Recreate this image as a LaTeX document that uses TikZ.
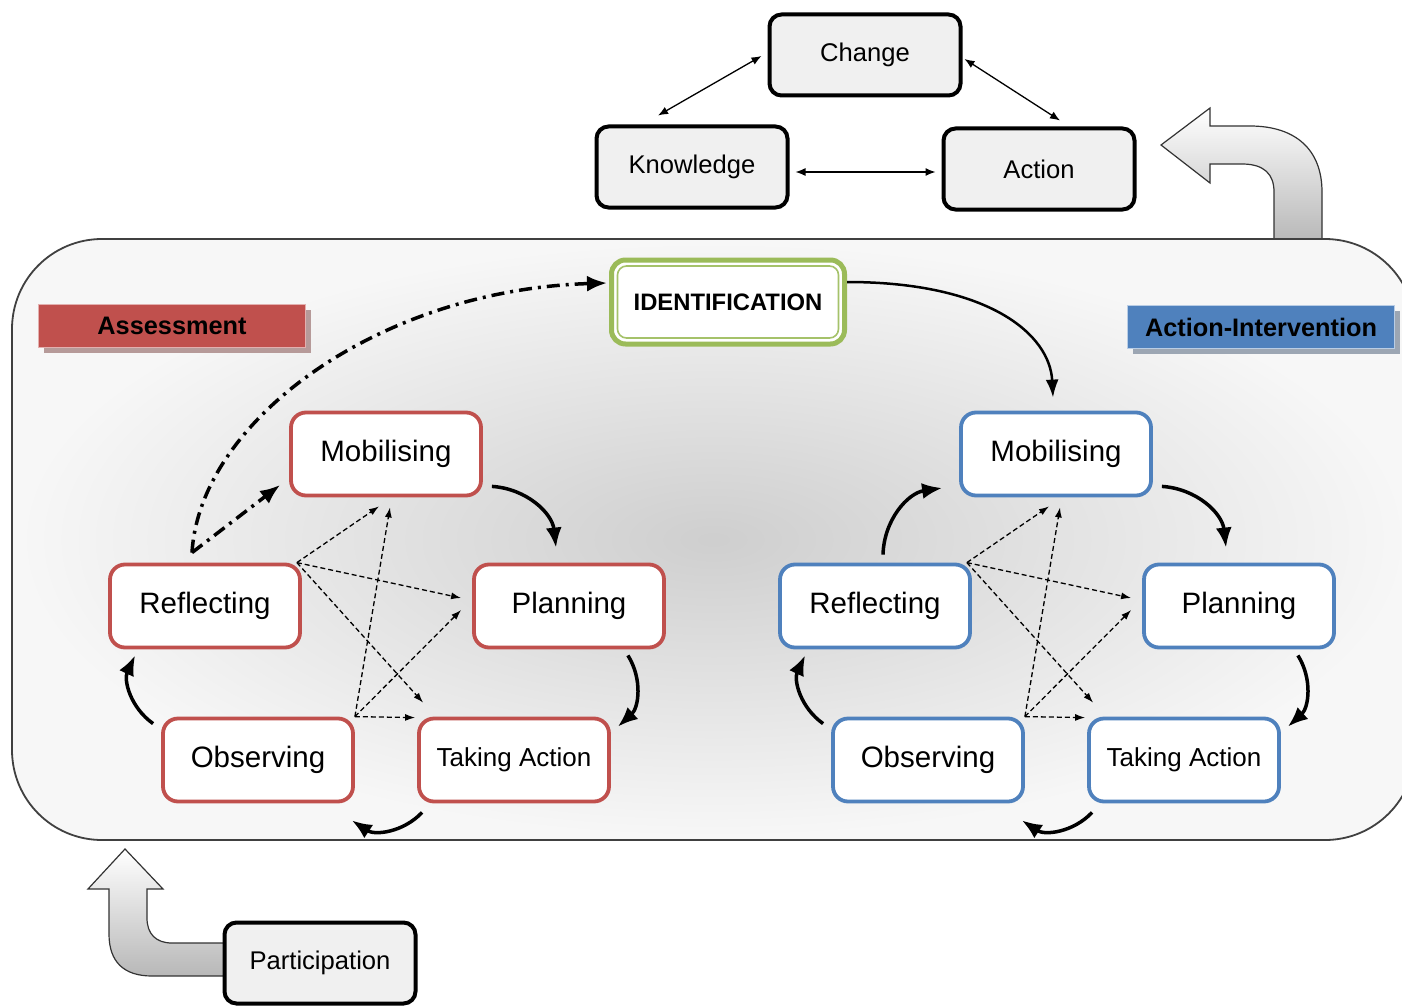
\documentclass[tikz,border=0pt]{standalone}
\usepackage{fontspec}
\setmainfont{Liberation Sans}
\usetikzlibrary{arrows.meta,calc,shadows}
\definecolor{redc}{HTML}{C0504D}
\definecolor{bluec}{HTML}{4F81BD}
\definecolor{greenc}{HTML}{9BBB59}
\definecolor{boxgray}{HTML}{F0F0F0}
\tikzset{
 blackbox/.style={draw=black, line width=4pt, rounded corners=12pt, fill=boxgray, minimum width=191pt, minimum height=81pt, font=\fontsize{25.6}{30}\selectfont, inner sep=0pt},
 cycbox/.style={line width=3.8pt, rounded corners=15pt, fill=white, minimum width=190pt, minimum height=83pt, inner sep=0pt, font=\fontsize{29.5}{34}\selectfont},
 redbox/.style={cycbox, draw=redc},
 bluebox/.style={cycbox, draw=bluec},
 cycarrow/.style={line width=3.5pt, -{Latex[length=20pt,width=16pt]}, bend left=40},
 dasharrow/.style={line width=1.3pt, dash pattern=on 5pt off 3pt, -{Latex[length=10pt,width=7pt]}},
 dotarrow/.style={line width=3.5pt, dash pattern=on 13pt off 6pt on 3pt off 6pt, -{Latex[length=20pt,width=16pt]}},
 triarrow/.style={line width=1.3pt, {Latex[length=10pt,width=8pt]}-{Latex[length=10pt,width=8pt]}},
 tagbox/.style={minimum width=267pt, minimum height=43pt, inner sep=0pt, font=\fontsize{25.3}{30}\selectfont\bfseries},
 bentarrow/.style={draw=black!80, line width=1.2pt, top color=white, bottom color=black!28},
}
\newcommand\mycycle[3]{%
 \node[#2] (#1mob) at (386+#3,454) {Mobilising};
 \node[#2] (#1refl) at (205+#3,606) {Reflecting};
 \node[#2] (#1plan) at (569+#3,606) {Planning};
 \node[#2] (#1obs) at (258+#3,760) {Observing};
 \node[#2, font=\fontsize{26}{30}\selectfont] (#1ta) at (514+#3,760) {Taking Action};
 \draw[cycarrow] ($(#1mob.south east)+(9,-11)$) to ($(#1plan.north)+(-13,-15)$);
 \draw[cycarrow] ($(#1plan.south east)+(-38,6)$) to ($(#1ta.north east)+(7,10)$);
 \draw[cycarrow] ($(#1ta.south west)+(5,9)$) to ($(#1obs.south east)+(-3,17)$);
 \draw[cycarrow] ($(#1obs.north west)+(-8,7)$) to ($(#1refl.south west)+(27,6)$);
 \draw[dasharrow] ($(#1refl.north east)+(-5,0)$) -- ($(#1mob.south)+(-7,9)$);
 \draw[dasharrow] ($(#1refl.north east)+(-5,0)$) -- ($(#1plan.west)+(-11,-8)$);
 \draw[dasharrow] ($(#1refl.north east)+(-5,0)$) -- ($(#1ta.north west)+(6,-14)$);
 \draw[dasharrow] (#1obs.north east) -- ($(#1mob.south)+(4,10)$);
 \draw[dasharrow] (#1obs.north east) -- ($(#1plan.west)+(-11,4)$);
 \draw[dasharrow] (#1obs.north east) -- ($(#1ta.north west)+(-2,1)$);
}
\begin{document}
\begin{tikzpicture}[x=1pt,y=-1pt]
\path[use as bounding box] (0,0) rectangle (1402,1006);
\clip (0,0) rectangle (1402,1006);
\fill[white] (0,0) rectangle (1402,1006);

% bent arrow top right
\path[bentarrow] (1274,242) -- (1274,192) .. controls (1274,174) and (1264,164) .. (1242,164) -- (1210,164) -- (1210,183) -- (1161,145) -- (1210,108) -- (1210,126) -- (1250,126) .. controls (1296,126) and (1322,150) .. (1322,192) -- (1322,242) -- cycle;

% container
\path[rounded corners=90pt, draw=black!75, line width=1.8pt, inner color=black!19, outer color=black!3] (12,239) rectangle (1415,840);

% top triangle
\node[blackbox] (change) at (865,55) {Change};
\node[blackbox] (know) at (692,167) {Knowledge};
\node[blackbox] (act) at (1039,169) {Action};
\draw[triarrow] ($(know.north)+(-34,-9)$) -- ($(change.west)+(-6,1)$);
\draw[triarrow] ($(change.east)+(2,4)$) -- ($(act.north)+(21,-6)$);
\draw[triarrow] ($(know.east)+(6,5)$) -- ($(act.west)+(-6,3)$);

% labels
\node[tagbox, fill=redc, draw=redc!45!white, line width=1pt, general shadow={fill=redc!35!gray!70, shadow xshift=5pt, shadow yshift=-5pt}] (assess) at (172,326) {Assessment};
\node[tagbox, fill=bluec, draw=bluec!40!white, line width=1pt, general shadow={fill=bluec!30!gray!70, shadow xshift=5pt, shadow yshift=-5pt}] (actint) at (1261,327) {Action-Intervention};

% identification
\node[draw=greenc, line width=5pt, rounded corners=14pt, fill=white, minimum width=233pt, minimum height=84pt, font=\fontsize{23.8}{28}\selectfont\bfseries, inner sep=0pt] (ident) at (728,302) {IDENTIFICATION};
\draw[greenc!90, line width=1.6pt, rounded corners=9pt] ($(ident.south west)+(8.5,-8.5)$) rectangle ($(ident.north east)+(-8.5,8.5)$);

% cycles
\mycycle{L}{redbox}{0}
\mycycle{R}{bluebox}{670}

% specific connectors
\draw[dotarrow] ($(Lrefl.north)+(-13,-10)$) .. controls (200,420) and (380,290) .. ($(ident.west)+(-2,-19)$);
\draw[dotarrow] ($(Lrefl.north)+(-13,-10)$) -- ($(Lmob.west)+(-9,31)$);
\draw[line width=2.5pt, -{Latex[length=18pt,width=13pt]}] ($(ident.east)+(0,-20)$) .. controls (990,282) and (1050,335) .. ($(Rmob.north)+(-3,-13)$);
\draw[cycarrow] ($(Rrefl.north)+(8,-8)$) to ($(Rmob.west)+(-17,34)$);

% participation
\path[bentarrow] (224,943) -- (172,943) .. controls (156,943) and (147,934) .. (147,918) -- (147,889) -- (163,889) -- (125,849) -- (88,889) -- (109,889) -- (109,934) .. controls (109,962) and (124,976) .. (152,976) -- (224,976) -- cycle;
\node[blackbox] (part) at (320,963) {Participation};
\end{tikzpicture}
\end{document}
